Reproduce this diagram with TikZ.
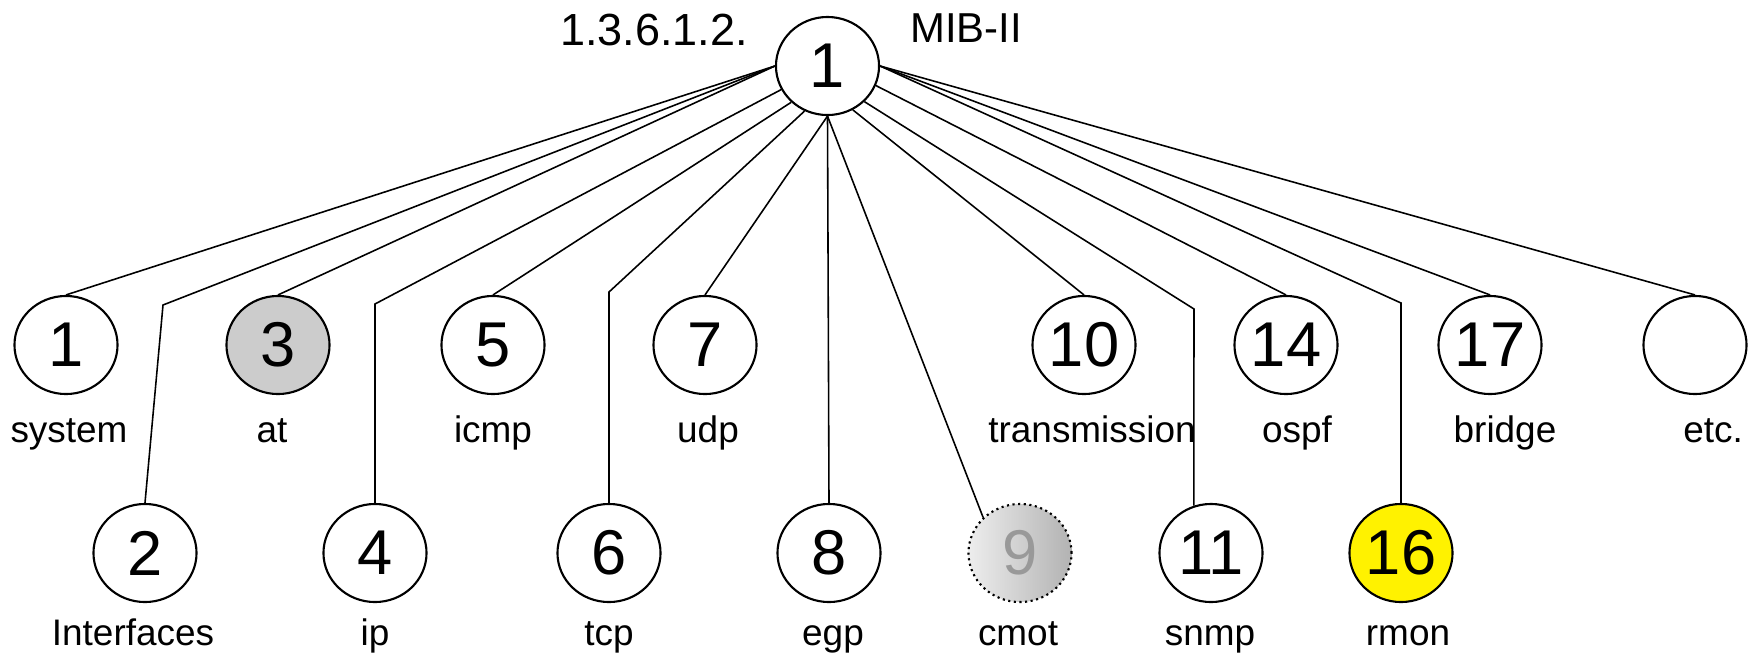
\documentclass[tikz,border=0pt]{standalone}
\usepackage{fontspec}
\setmainfont{Liberation Sans}
\usetikzlibrary{shapes.geometric}

\begin{document}
\begin{tikzpicture}[x=0.01cm,y=-0.01cm]
	\tikzstyle{every node}+=[inner sep=0pt]
	\tikzstyle{oid}=[draw=black,line width=0.6pt,fill=white,ellipse,minimum width=1.03cm,minimum height=0.98cm,font=\fontsize{18}{18}\selectfont]
	\tikzstyle{lbl}=[anchor=base,font=\fontsize{10.5}{12}\selectfont]
	\tikzstyle{branch}=[black,line width=0.45pt]
	\useasboundingbox (0,0) rectangle (1748,657);
	\node [oid] (root) at (827.5,66) {1};
	\node [anchor=base,font=\fontsize{12.8}{14}\selectfont] (oid) at (654,45) {1.3.6.1.2.};
	\node [anchor=base,font=\fontsize{11.9}{14}\selectfont] (mib) at (966,42) {MIB-II};
	\node [oid] (n1) at (66,345) {1};
	\node [oid,fill=black!20] (n3) at (278,345) {3};
	\node [oid] (n5) at (493,345) {5};
	\node [oid] (n7) at (705,345) {7};
	\node [oid] (n10) at (1084,345) {10};
	\node [oid] (n14) at (1286,345) {14};
	\node [oid] (n17) at (1490,345) {17};
	\node [oid] (netc) at (1695,345) {};
	\node [oid] (n2) at (145,553) {2};
	\node [oid] (n4) at (375,553) {4};
	\node [oid] (n6) at (609,553) {6};
	\node [oid] (n8) at (829,553) {8};
	\node [oid,densely dotted,left color=black!7,right color=black!30,text=black!40] (n9) at (1020,553) {9};
	\node [oid] (n11) at (1211,553) {11};
	\node [oid,fill=yellow] (n16) at (1401,553) {16};
	\node [lbl] (l1) at (69,442) {system};
	\node [lbl] (l3) at (272,442) {at};
	\node [lbl] (l5) at (493,442) {icmp};
	\node [lbl] (l7) at (708,442) {udp};
	\node [lbl] (l10) at (1092,442) {transmission};
	\node [lbl] (l14) at (1297,442) {ospf};
	\node [lbl] (l17) at (1505,442) {bridge};
	\node [lbl] (letc) at (1713,442) {etc.};
	\node [lbl] (l2) at (133,645) {Interfaces};
	\node [lbl] (l4) at (375,645) {ip};
	\node [lbl] (l6) at (609,645) {tcp};
	\node [lbl] (l8) at (833,645) {egp};
	\node [lbl] (l9) at (1018,645) {cmot};
	\node [lbl] (l11) at (1210,645) {snmp};
	\node [lbl] (l16) at (1408,645) {rmon};
	\coordinate (b2) at (163,305);
	\coordinate (b4) at (375,304);
	\coordinate (b6) at (609,292);
	\coordinate (b11) at (1194,309);
	\coordinate (b16) at (1401,303);
	\draw [branch] (root.west) -- (n1.north);
	\draw [branch] (root.west) -- (b2) -- (n2.north);
	\draw [branch] (root.west) -- (n3.north);
	\draw [branch] (root.207) -- (b4) -- (n4.north);
	\draw [branch] (root.225) -- (n5.north);
	\draw [branch] (root.243) -- (b6) -- (n6.north);
	\draw [branch] (root.south) -- (n7.north);
	\draw [branch] (root.south) -- (n8.north);
	\draw [branch] (root.south) -- (n9.136);
	\draw [branch] (root.300) -- (n10.north);
	\draw [branch] (root.316) -- (b11) -- (n11.110);
	\draw [branch] (root.338) -- (n14.north);
	\draw [branch] (root.east) -- (b16) -- (n16.north);
	\draw [branch] (root.east) -- (n17.north);
	\draw [branch] (root.east) -- (netc.north);
\end{tikzpicture}
\end{document}
